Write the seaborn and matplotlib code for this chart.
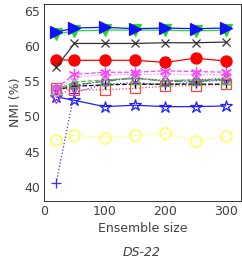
import matplotlib
matplotlib.use("Agg")
import matplotlib.pyplot as plt
import seaborn as sns
import numpy as np

sizes = [20, 50, 100, 150, 200, 250, 300]

s_tri_right = [62.0, 62.6, 62.7, 62.5, 62.6, 62.5, 62.6]
s_tri_down = [61.7, 62.2, 62.3, 62.3, 62.3, 62.2, 62.3]
s_cross = [57.0, 60.4, 60.4, 60.4, 60.5, 60.5, 60.6]
s_red_dot = [58.1, 58.0, 58.0, 58.0, 57.7, 58.3, 57.9]
s_asterisk = [54.0, 56.0, 56.3, 56.3, 56.5, 56.4, 56.3]
s_pink = [53.5, 55.6, 55.9, 56.0, 56.0, 56.0, 55.9]
s_green_tri = [53.8, 54.9, 55.2, 55.4, 55.1, 55.2, 55.3]
s_black_dash = [53.8, 54.3, 54.5, 54.6, 54.6, 54.6, 54.6]
s_blue_plus = [40.5, 53.4, 54.6, 54.8, 54.5, 54.9, 55.2]
s_red_square = [54.1, 53.8, 53.8, 54.0, 54.3, 54.4, 54.6]
s_olive = [54.0, 54.5, 55.0, 55.5, 55.0, 55.0, 55.3]
s_diamond = [52.8, 54.2, 55.2, 55.5, 55.1, 55.2, 55.5]
s_star = [52.8, 52.3, 51.4, 51.6, 51.4, 51.4, 51.5]
s_yellow = [46.7, 47.3, 47.0, 47.3, 47.6, 46.5, 47.2]

sns.set_style("white")
plt.rcParams['font.family'] = ['DejaVu Sans']

fig = plt.figure(figsize=(2.42, 2.58), dpi=100)
ax = fig.add_axes([0.182, 0.222, 0.814, 0.762])

series = [
    (s_yellow, dict(color="#ffff33", linestyle=":", marker="o", markersize=8, markerfacecolor="none")),
    (s_star, dict(color="#2020ff", linestyle="-", marker="*", markersize=9, markerfacecolor="none")),
    (s_blue_plus, dict(color="#3333ff", linestyle=":", marker="+", markersize=7)),
    (s_red_square, dict(color="#ff4444", linestyle=":", marker="s", markersize=7, markerfacecolor="none")),
    (s_black_dash, dict(color="#000000", linestyle="--", marker="+", markersize=6)),
    (s_olive, dict(color="#2e8b57", linestyle="-.", marker="o", markersize=5, markerfacecolor="none")),
    (s_green_tri, dict(color="#33cc33", linestyle="--", marker="^", markersize=7, markerfacecolor="none")),
    (s_diamond, dict(color="#cc33cc", linestyle=":", marker="d", markersize=6, markerfacecolor="none")),
    (s_pink, dict(color="#ff88ff", linestyle=":", marker="h", markersize=5, markerfacecolor="none")),
    (s_asterisk, dict(color="#ff44ff", linestyle="--", marker=(6, 2, 0), markersize=8)),
    (s_red_dot, dict(color="#ff0000", linestyle="-", marker="o", markersize=8)),
    (s_cross, dict(color="#333333", linestyle="-", marker="x", markersize=6)),
    (s_tri_down, dict(color="#22dd22", linestyle="-", marker="v", markersize=8)),
    (s_tri_right, dict(color="#1010ff", linestyle="-", marker=">", markersize=9)),
]

for vals, kw in series:
    sns.lineplot(x=sizes, y=vals, ax=ax, markeredgewidth=0.9, lw=0.9,
                 markeredgecolor=kw["color"], **kw)

ax.set_xlim(0, 325)
ax.set_ylim(38, 66)
ax.set_xticks([0, 100, 200, 300])
ax.set_yticks([40, 45, 50, 55, 60, 65])
txtc = "#404040"
ax.tick_params(direction="in", length=3, labelsize=9, colors=txtc, width=0.6, pad=3)
for sp in ax.spines.values():
    sp.set_color("#333333")
    sp.set_linewidth(0.7)
ax.set_xlabel("Ensemble size", fontsize=9, color=txtc, labelpad=3)
ax.set_ylabel("NMI (%)", fontsize=9, color=txtc, labelpad=1)
fig.text(0.587, 0.008, "DS-22", fontsize=9, style="italic", color=txtc, ha="center")

fig.savefig("out.png", dpi=100)
